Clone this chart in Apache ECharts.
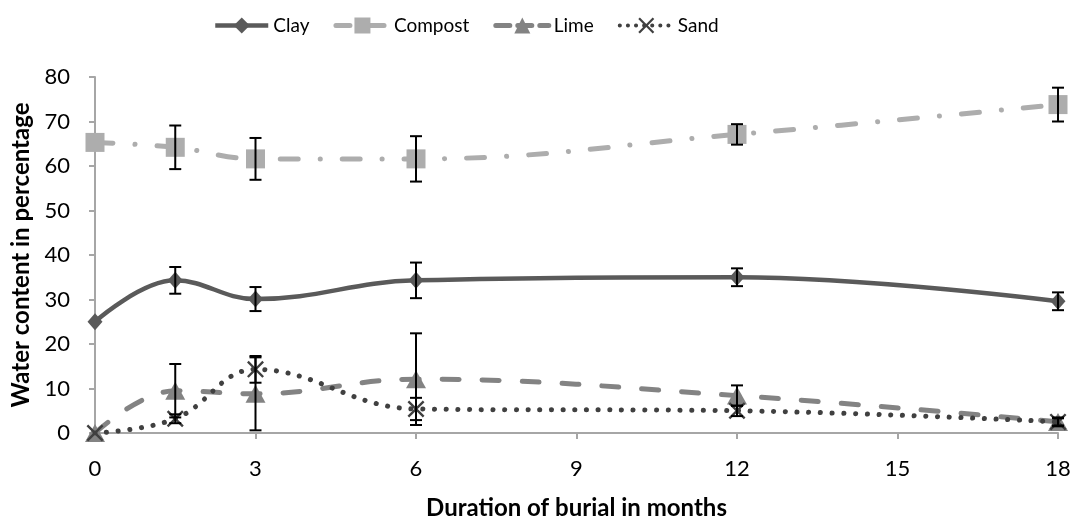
<!DOCTYPE html>
<html>
<head>
<meta charset="utf-8">
<script src="https://cdn.jsdelivr.net/npm/echarts@6/dist/echarts.min.js"></script>
<style>html,body{margin:0;padding:0;background:#fff}#c{width:1076px;height:525px}</style>
</head>
<body>
<div id="c"></div>
<script>
// Data
var months = [0, 1.5, 3, 6, 12, 18];
var seriesNames = ['Clay', 'Compost', 'Lime', 'Sand'];
var clay = [25, 34.3, 30.1, 34.3, 35, 29.6];
var clayErr = [0, 3, 2.7, 4, 2, 2];
var compost = [65.3, 64.2, 61.6, 61.6, 67.1, 73.8];
var compostErr = [0, 4.9, 4.7, 5.1, 2.3, 3.8];
var lime = [0, 9.5, 8.8, 12.1, 8.4, 2.5];
var limeErr = [0, 6, 8.2, 10.3, 2.3, 1];
var sand = [0, 3.2, 14.3, 5.4, 5.0, 2.5];
var sandErr = [0, 1, 3, 2.5, 1.2, 0.8];
var xTicks = [0, 3, 6, 9, 12, 15, 18];
var yTicks = [0, 10, 20, 30, 40, 50, 60, 70, 80];

var FONT = 'Lato';
var C_CLAY = '#5a5a5a', C_COMP = '#adadad', C_LIME = '#838383', C_SAND = '#404040';
var LS = {
  Clay: { color: C_CLAY, width: 4.5, type: 'solid' },
  Compost: { color: C_COMP, width: 5, type: [18, 22, 0.1, 22], cap: 'round' },
  Lime: { color: C_LIME, width: 5, type: [17, 23], cap: 'round' },
  Sand: { color: C_SAND, width: 5, type: [0.1, 11.6], cap: 'round' }
};
var LEG_LS = {
  Clay: { width: 4.5, type: 'solid' },
  Compost: { width: 5, type: [14, 10, 0.1, 10], cap: 'round' },
  Lime: { width: 5, type: [14, 8], cap: 'round' },
  Sand: { width: 4, type: [0.1, 8], cap: 'round' }
};
function pairs(vals) { return months.map(function (m, i) { return [m, vals[i]]; }); }
function errData(vals, errs) {
  var out = [];
  months.forEach(function (m, i) { if (errs[i] > 0) out.push([m, vals[i] - errs[i], vals[i] + errs[i]]); });
  return out;
}
function errSeries(vals, errs) {
  return {
    type: 'custom', z: 10, silent: true, legendHoverLink: false,
    data: errData(vals, errs),
    renderItem: function (params, api) {
      var x = api.value(0);
      var lo = api.coord([x, api.value(1)]);
      var hi = api.coord([x, api.value(2)]);
      var w = 6;
      var st = { stroke: '#000', lineWidth: 2 };
      return { type: 'group', children: [
        { type: 'line', shape: { x1: lo[0], y1: lo[1], x2: hi[0], y2: hi[1] }, style: st },
        { type: 'line', shape: { x1: lo[0] - w, y1: lo[1], x2: lo[0] + w, y2: lo[1] }, style: st },
        { type: 'line', shape: { x1: hi[0] - w, y1: hi[1], x2: hi[0] + w, y2: hi[1] }, style: st }
      ]};
    }
  };
}
var xSym = 'path://M0,1 L1,0 L5,4 L9,0 L10,1 L6,5 L10,9 L9,10 L5,6 L1,10 L0,9 L4,5 Z';

var chart = echarts.init(document.getElementById('c'), null, { renderer: 'canvas' });
chart.setOption({
  animation: false,
  backgroundColor: '#fff',
  textStyle: { fontFamily: FONT },
  legend: {
    top: 11, left: 208,
    data: seriesNames.map(function (n) { return { name: n, lineStyle: LEG_LS[n] }; }),
    itemWidth: 53, itemHeight: 20, itemGap: 24,
    textStyle: { fontSize: 19, color: '#000', fontFamily: FONT }
  },
  grid: { left: 95, right: 18, top: 77, bottom: 89, containLabel: false },
  xAxis: {
    type: 'value', min: 0, max: 18, interval: 3,
    name: 'Duration of burial in months', nameLocation: 'middle', nameGap: 63,
    nameTextStyle: { fontSize: 24, fontWeight: 'bold', color: '#000', fontFamily: FONT },
    axisLine: { lineStyle: { color: '#a6a6a6', width: 2 } },
    axisTick: { show: true, length: 6, lineStyle: { color: '#a6a6a6', width: 2 } },
    axisLabel: { fontSize: 22, color: '#000', margin: 25, fontFamily: FONT,
      formatter: function (v) { return xTicks.indexOf(v) >= 0 ? String(v) : ''; } },
    splitLine: { show: false }
  },
  yAxis: {
    type: 'value', min: 0, max: 80, interval: 10,
    name: 'Water content in percentage', nameLocation: 'middle', nameGap: 62,
    nameTextStyle: { fontSize: 24, fontWeight: 'bold', color: '#000', fontFamily: FONT },
    axisLine: { show: true, lineStyle: { color: '#a6a6a6', width: 2 } },
    axisTick: { show: true, length: 6, lineStyle: { color: '#a6a6a6', width: 2 } },
    axisLabel: { fontSize: 22, color: '#000', margin: 25, fontFamily: FONT,
      formatter: function (v) { return yTicks.indexOf(v) >= 0 ? String(v) : ''; } },
    splitLine: { show: false }
  },
  series: [
    { name: 'Clay', type: 'line', data: pairs(clay), smooth: 0.4, z: 4,
      symbol: 'diamond', symbolSize: [15, 17],
      itemStyle: { color: C_CLAY }, lineStyle: LS.Clay },
    { name: 'Compost', type: 'line', data: pairs(compost), smooth: 0.4, z: 3,
      symbol: 'rect', symbolSize: 19,
      itemStyle: { color: C_COMP }, lineStyle: LS.Compost },
    { name: 'Lime', type: 'line', data: pairs(lime), smooth: 0.4, z: 3,
      symbol: 'triangle', symbolSize: [20, 18],
      itemStyle: { color: C_LIME }, lineStyle: LS.Lime },
    { name: 'Sand', type: 'line', data: pairs(sand), smooth: 0.4, z: 5,
      symbol: xSym, symbolSize: 17,
      itemStyle: { color: C_SAND }, lineStyle: LS.Sand },
    errSeries(clay, clayErr),
    errSeries(compost, compostErr),
    errSeries(lime, limeErr),
    errSeries(sand, sandErr)
  ]
});
</script>
</body>
</html>
